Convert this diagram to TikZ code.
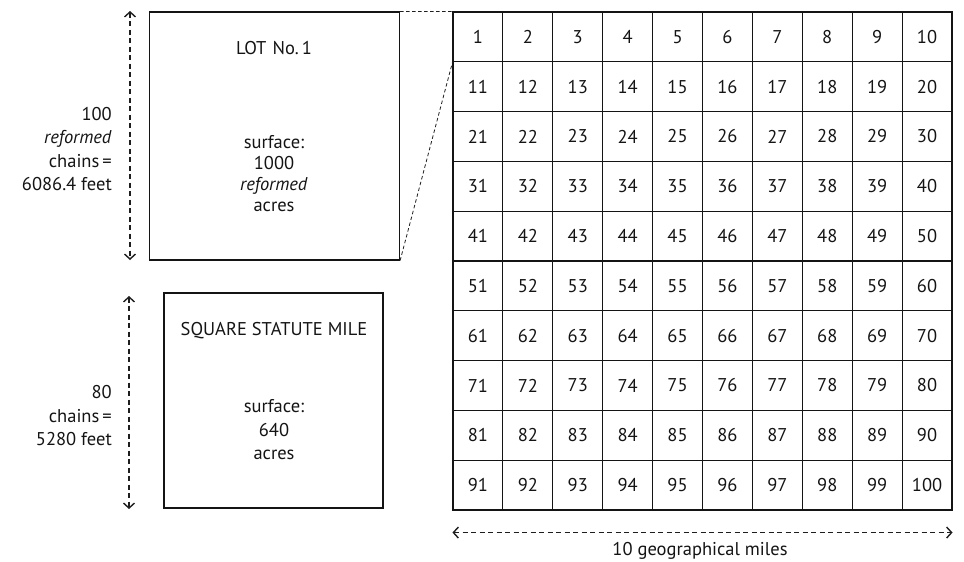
\documentclass[tikz,border=0pt]{standalone}
\usepackage{fontspec}
\setmainfont{PT Sans}
\usepackage{xcolor}
\definecolor{plotInk}{HTML}{141414}
\definecolor{plotDash}{HTML}{1E1E1E}
\usepackage{tikz}
\usetikzlibrary{
  arrows.meta,
  positioning,
  calc
}
\tikzset{
  lotbox/.style={
    rectangle,draw=plotInk,line width=1.2pt,
    minimum width=#1,minimum height=#1,inner sep=0pt
  },
  cellbox/.style={
    rectangle,draw=plotInk,line width=1.1pt,
    minimum width=49.9,minimum height=49.8,inner sep=0pt,
    font=\fontsize{18.5}{22}\selectfont,text=plotInk
  },
  boxtitle/.style={font=\fontsize{18.5}{22}\selectfont,text=plotInk,inner sep=0pt},
  boxtext/.style={align=center,font=\fontsize{18.5}{21}\selectfont,text=plotInk,inner sep=0pt},
  sidelabel/.style={align=right,font=\fontsize{18.5}{23.5}\selectfont,text=plotInk,inner sep=0pt},
  dimtip/.tip={Straight Barb[length=5pt,width=11pt,line width=1.4pt]},
  dimarr/.style={dimtip-dimtip,
    line width=1.1pt,color=plotDash,dash pattern=on 5pt off 3.5pt},
  zoomline/.style={-,line width=0.8pt,color=plotDash,dash pattern=on 3.5pt off 2.5pt},
}

\begin{document}
\begin{tikzpicture}[x=1pt,y=-1pt]
\useasboundingbox (0,0) rectangle (964,562);

%% ── Lot No. 1 ────────────────────────────────────────────
\node[lotbox=250,minimum height=248] (lot) at (274.5,136) {};
\node[boxtitle] (lottitle) at (274,48) {LOT\,\,No.\,1};
\node[boxtext] (lottext) at (274,174) {surface:\\1000\\\textit{reformed}\\acres};

%% ── Square statute mile ──────────────────────────────────
\node[lotbox=219,minimum height=215] (mile) at (273.5,400.5) {};
\node[boxtitle] (miletitle) at (274,331) {SQUARE STATUTE MILE};
\node[boxtext,font=\fontsize{18.5}{23.5}\selectfont] (miletext) at (274,430) {surface:\\640\\acres};

%% ── Side dimensions ──────────────────────────────────────
\coordinate (lottop) at (130,11);
\coordinate (lotbot) at (130,260);
\coordinate (miletop) at (129,296);
\coordinate (milebot) at (129,509);
\draw[dimarr] (lottop) -- (lotbot);
\draw[dimarr] (miletop) -- (milebot);
\node[sidelabel,anchor=east] (lotlabel) at (112,149)
  {100\\\textit{reformed}\\chains\,=\\6086.4 feet};
\node[sidelabel,anchor=east] (milelabel) at (112,416)
  {80\\chains\,=\\5280 feet};

%% ── Township grid ────────────────────────────────────────
\foreach \r in {0,...,9}{
  \foreach \c in {1,...,10}{
    \pgfmathtruncatemacro{\n}{10*\r+\c}
    \node[cellbox] (c\n) at ({453+49.9*(\c-0.5)},{12+49.8*(\r+0.5)}) {\n};
  }
}

%% ── Zoom lines ───────────────────────────────────────────
\draw[zoomline] (lot.north east) -- (c1.north west);
\draw[zoomline] (lot.south east) -- (c1.south west);

%% ── Bottom dimension ─────────────────────────────────────
\coordinate (gridleft) at ($(c91.south west)+(0,22)$);
\coordinate (gridright) at ($(c100.south east)+(0,22)$);
\draw[dimarr] (gridleft) -- (gridright);
\node[boxtitle] (gridlabel) at (700,551) {10 geographical miles};

\end{tikzpicture}
\end{document}
